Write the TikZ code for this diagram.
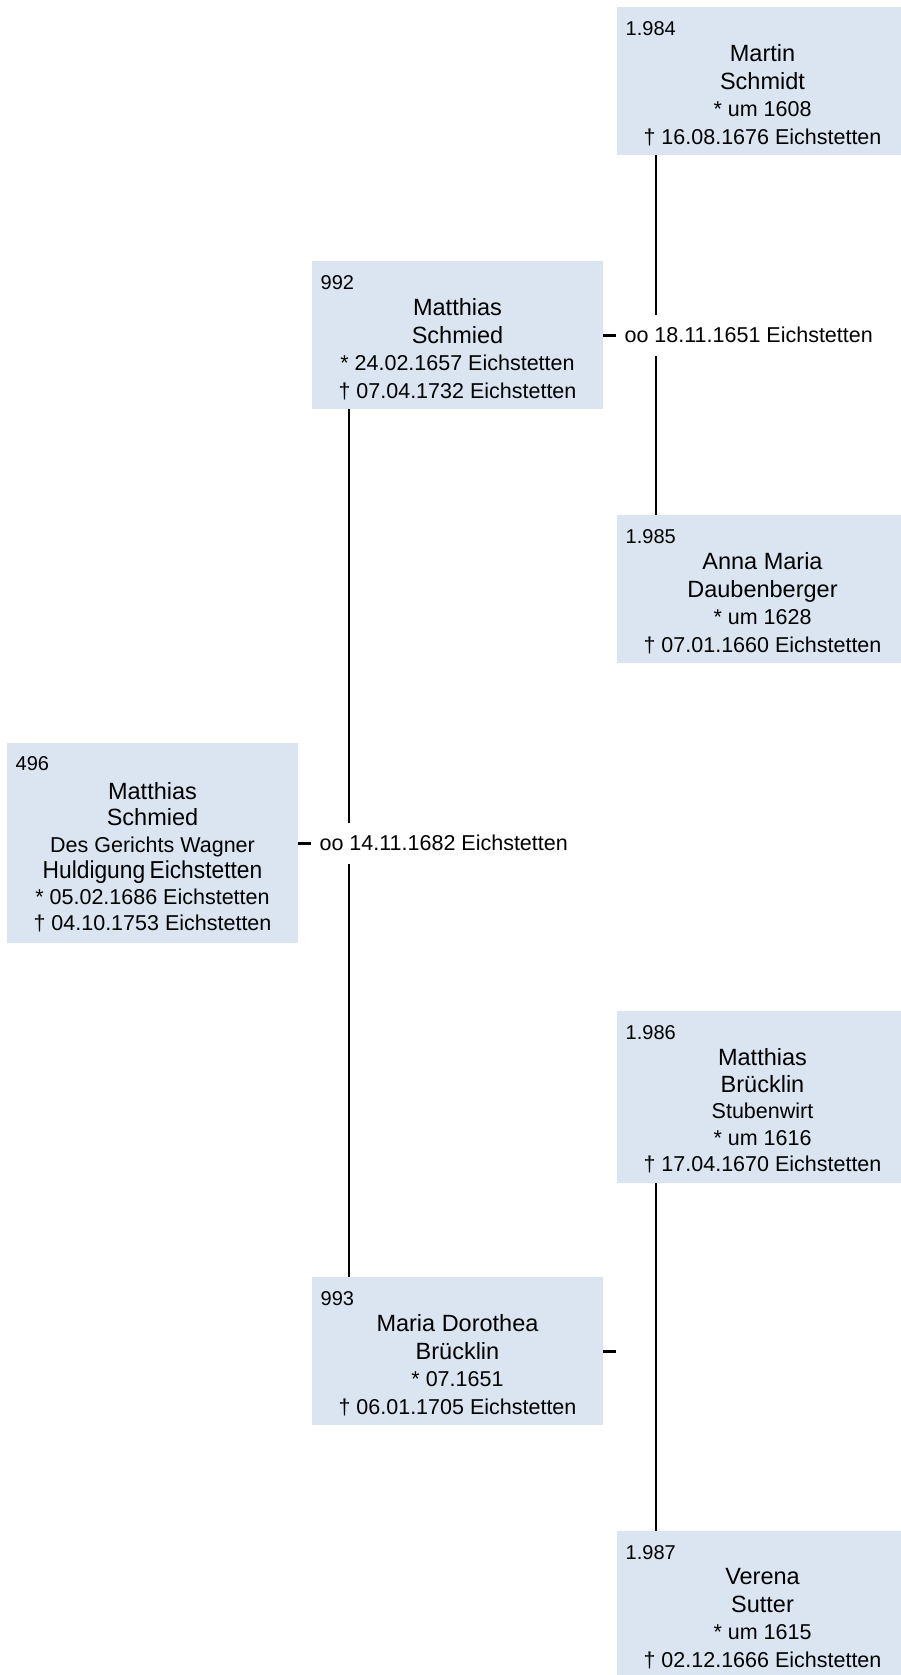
\documentclass[tikz,border=0pt]{standalone}
\usepackage{fontspec}
\setmainfont{Liberation Sans}
\usepackage{tikz}
\usetikzlibrary{positioning}

\newcommand{\persname}[1]{{\fontsize{23.5}{27.5}\selectfont #1}}

\begin{document}
\begin{tikzpicture}[x=1pt,y=1pt,yscale=-1,xscale=1,
        person/.style={anchor=north west,inner sep=0pt,minimum width=291pt,minimum height=148pt,fill={rgb, 255:red, 219; green, 229; blue, 241 }},
        kennr/.style={anchor=north west,inner sep=0pt,font=\fontsize{20}{24}\selectfont},
        ptext/.style={anchor=north,inner sep=0pt,align=center,font=\fontsize{21.5}{27.5}\selectfont},
        link/.style={line width=2.8pt},
        wed/.style={anchor=west,inner sep=0pt,minimum height=41pt,font=\fontsize{21.5}{26}\selectfont}]
        \useasboundingbox (0,0) rectangle (901,1675);

        \coordinate (c1) at (349,0);
        \coordinate (c2) at (656,0);

        \node [person] (p1984) at (617,7) {};
        \node [kennr] (n1984) at (625.5,21) {1.984};
        \node [ptext] (t1984) at (762.5,44.5) {\persname{Martin}\\\persname{Schmidt}\\* um 1608\\† 16.08.1676 Eichstetten};

        \node [person] (p992) at (312,261) {};
        \node [kennr] (n992) at (320.5,275) {992};
        \node [ptext] (t992) at (457.5,298.5) {\persname{Matthias}\\\persname{Schmied}\\* 24.02.1657 Eichstetten\\† 07.04.1732 Eichstetten};

        \node [person] (p1985) at (617,515) {};
        \node [kennr] (n1985) at (625.5,529) {1.985};
        \node [ptext] (t1985) at (762.5,552.5) {\persname{Anna Maria}\\\persname{Daubenberger}\\* um 1628\\† 07.01.1660 Eichstetten};

        \node [person,minimum height=200pt] (p496) at (7,743) {};
        \node [kennr] (n496) at (15.5,756) {496};
        \node [ptext,font=\fontsize{21.5}{26.2}\selectfont] (t496) at (152.5,782.5) {\persname{Matthias}\\\persname{Schmied}\\Des Gerichts Wagner\\{\addfontfeature{FakeStretch=0.93}\fontsize{24.5}{26.2}\selectfont Huldigung\hspace{-2pt} Eichstetten}\\* 05.02.1686 Eichstetten\\† 04.10.1753 Eichstetten};

        \node [person,minimum height=172pt] (p1986) at (617,1011) {};
        \node [kennr] (n1986) at (625.5,1025) {1.986};
        \node [ptext,font=\fontsize{21.5}{26.5}\selectfont] (t1986) at (762.5,1048.5) {\persname{Matthias}\\\persname{Brücklin}\\Stubenwirt\\* um 1616\\† 17.04.1670 Eichstetten};

        \node [person] (p993) at (312,1277) {};
        \node [kennr] (n993) at (320.5,1291) {993};
        \node [ptext] (t993) at (457.5,1314.5) {\persname{Maria Dorothea}\\\persname{Brücklin}\\* 07.1651\\† 06.01.1705 Eichstetten};

        \node [person] (p1987) at (617,1531) {};
        \node [kennr] (n1987) at (625.5,1545) {1.987};
        \node [ptext] (t1987) at (762.5,1568.5) {\persname{Verena}\\\persname{Sutter}\\* um 1615\\† 02.12.1666 Eichstetten};

        \draw [link] (p992.east) -- ++(13,0) coordinate (d992);
        \node [wed, right=8pt of d992] (w992) {oo 18.11.1651 Eichstetten};
        \draw [link] (c2 |- p1984.south) -- (c2 |- w992.north);
        \draw [link] (c2 |- w992.south) -- (c2 |- p1985.north);

        \draw [link] (p496.east) -- ++(13,0) coordinate (d496);
        \node [wed, right=8pt of d496] (w496) {oo 14.11.1682 Eichstetten};
        \draw [link] (c1 |- p992.south) -- (c1 |- w496.north);
        \draw [link] (c1 |- w496.south) -- (c1 |- p993.north);

        \draw [link] (p993.east) -- ++(13,0) coordinate (d993);
        \draw [link] (c2 |- p1986.south) -- (c2 |- p1987.north);
    \end{tikzpicture}
\end{document}
